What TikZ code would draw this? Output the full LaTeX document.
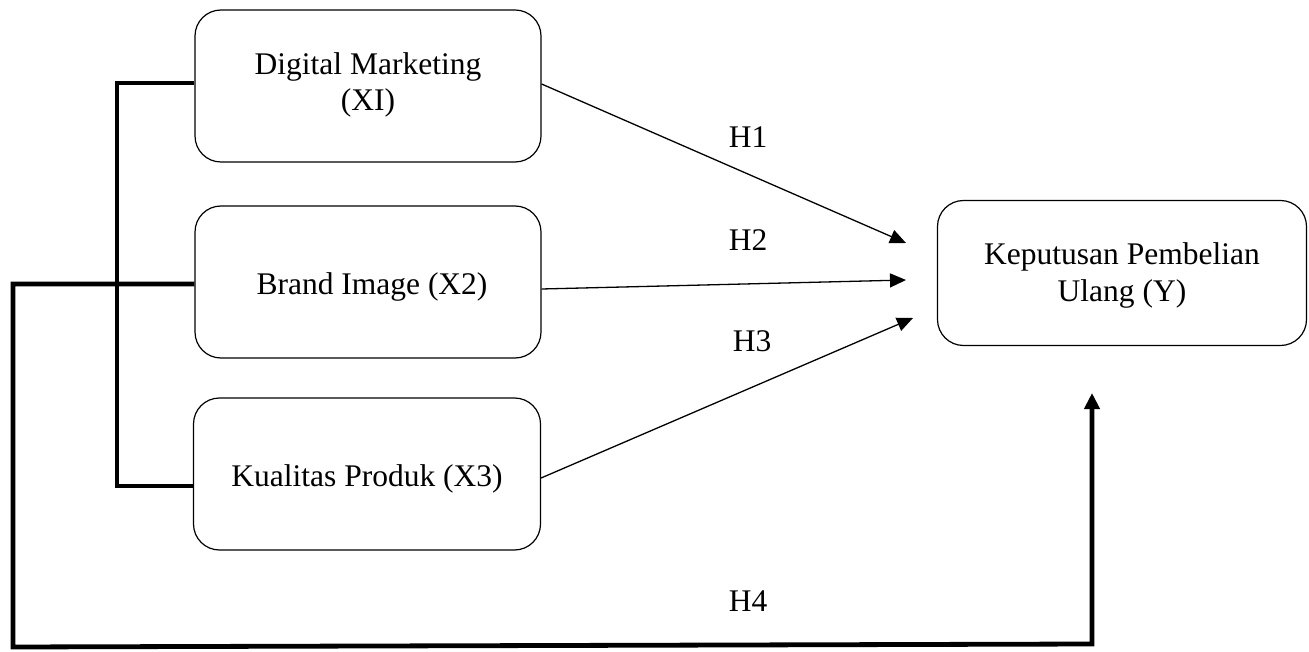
\documentclass[tikz,border=0pt]{standalone}
\usepackage{fontspec}
\setmainfont{Liberation Serif}
\usetikzlibrary{arrows.meta}
\begin{document}
\begin{tikzpicture}[x=1pt,y=-1pt,
  box/.style={draw, line width=1.2pt, rounded corners=26pt, align=center,
    inner sep=0pt, font=\fontsize{31.5}{36}\selectfont},
  thin/.style={line width=1.3pt, -{Triangle[length=16pt,width=14pt]}},
  thick/.style={line width=4.8pt},
  lab/.style={font=\fontsize{31.5}{36}\selectfont, inner sep=0pt}]
\useasboundingbox (0,0) rectangle (1309,652);
\node[box, minimum width=346pt, minimum height=152pt] (dm) at (368,86) {};
\node[font=\fontsize{31.5}{36}\selectfont, align=center] (dmt) at (368,85) {Digital Marketing\\(XI)};
\node[box, minimum width=346pt, minimum height=152pt] (bi) at (368,282) {};
\node[lab] (bit) at (372,287) {Brand Image (X2)};
\node[box, minimum width=347pt, minimum height=152pt] (kp) at (367,474) {};
\node[lab] (kpt) at (367,479) {Kualitas Produk (X3)};
\node[box, minimum width=369pt, minimum height=145pt] (y) at (1122,273) {};
\node[font=\fontsize{31.5}{37}\selectfont, align=center] (yt) at (1122,275) {Keputusan Pembelian\\Ulang (Y)};
\coordinate (t1) at (906,243);
\coordinate (t2) at (906,280);
\coordinate (t3) at (913,318);
\draw[thin] ([yshift=2pt]dm.east) -- (t1);
\draw[thin] ([yshift=-7pt]bi.east) -- (t2);
\draw[thin] ([yshift=-4pt]kp.east) -- (t3);
\node[lab] (h1) at (748,137) {H1};
\node[lab] (h2) at (748,240) {H2};
\node[lab] (h3) at (752,341) {H3};
\node[lab] (h4) at (748,601) {H4};
\draw[thick] ([yshift=3pt]dm.west) -| (117,300) |- ([yshift=-12pt]kp.west);
\coordinate (c1) at (13,284);
\coordinate (c2) at (13,647);
\coordinate (c3) at (1092,644);
\coordinate (c4) at (1092,393);
\draw[thick, -{Triangle[length=16pt,width=15pt]}] ([yshift=-2pt]bi.west) -- (c1) -- (c2) -- (c3) -- (c4);
\end{tikzpicture}
\end{document}
